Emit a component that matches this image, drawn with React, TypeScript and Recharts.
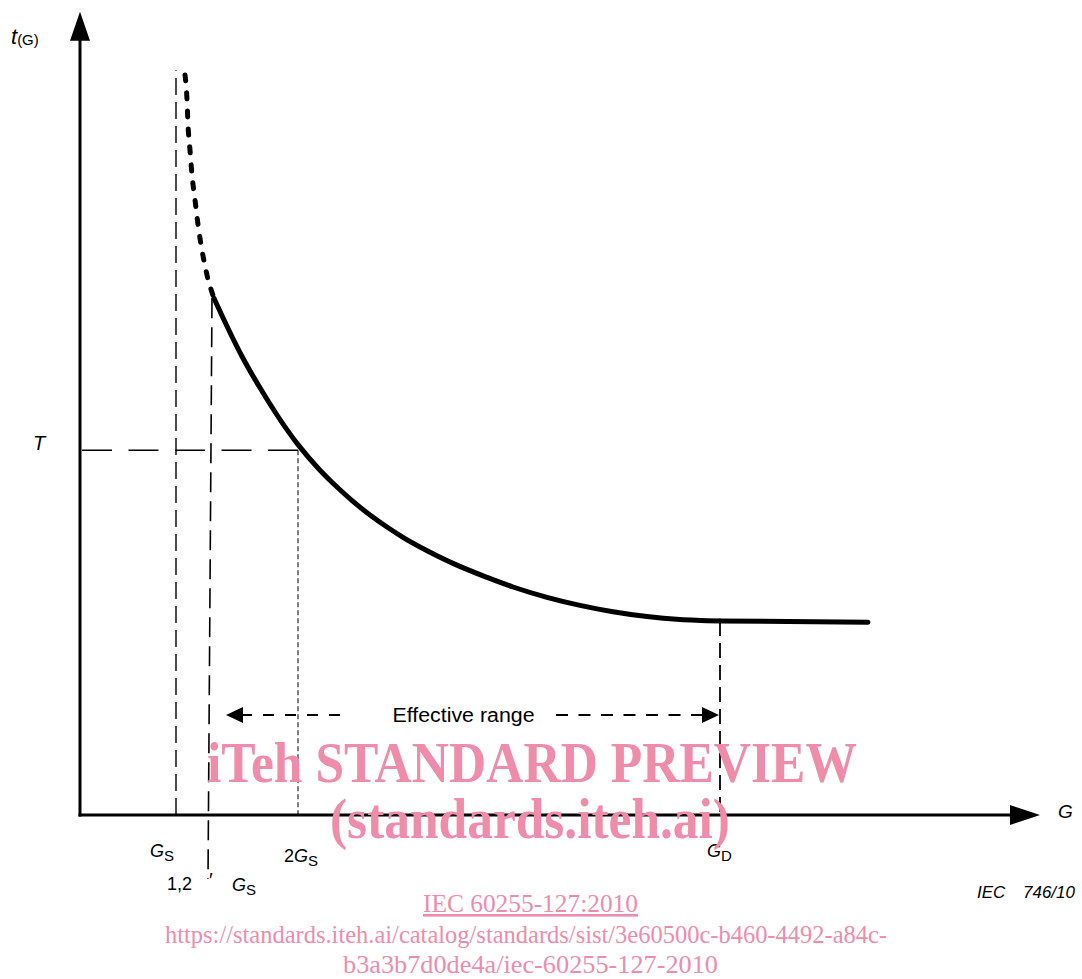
import { LineChart, Line, XAxis, YAxis, ReferenceLine, ReferenceDot } from "recharts";

// curve t(G) (arbitrary units, origin at the axes cross)
const dottedX = [10.5, 10.7, 10.8, 11.0, 11.2, 11.5, 11.8, 12.2, 12.7, 13.4];
const dottedY = [92.5, 89.4, 86.3, 83.1, 80.0, 76.9, 73.8, 70.6, 67.5, 64.6];
const solidX = [13.4, 14.7, 16.3, 18.0, 19.7, 21.8, 24.0, 25.7, 27.3, 29.0, 30.7, 32.3, 34.0, 37.3, 40.7, 43.3, 46.7, 50.0, 53.3, 56.7, 60.0, 64.0];
const solidY = [64.6, 61.1, 57.1, 53.4, 50.0, 46.3, 43.1, 41.0, 39.2, 37.5, 36.0, 34.7, 33.5, 31.45, 29.7, 28.5, 27.2, 26.2, 25.4, 24.8, 24.45, 24.25];
const flatX = [64.0, 78.8];
const flatY = [24.25, 24.1];

// marks on the G axis
const markNames = ["GS", "1,2 GS", "2GS", "GD"];
const markX = [9.6, 13.0, 21.8, 64.0];
const tValue = 45.6;
const gsTop = 93.1;
const gs12Top = [13.2, 64.6];
const gs12Bottom = [12.8, -8.0];
const rangeY = 12.5;
const rangeFrom = 14.6;
const rangeTo = 63.9;
const xAxisEnd = 96;
const yAxisEnd = 100.4;

const dotted = dottedX.map((x, i) => ({ x, y: dottedY[i] }));
const solid = solidX.map((x, i) => ({ x, y: solidY[i] }));
const flat = flatX.map((x, i) => ({ x, y: flatY[i] }));

const SANS = '"Liberation Sans", Arial, sans-serif';
const SERIF = '"Liberation Serif", "Times New Roman", serif';
const PINK = "#F08BAA";

const at = (dx: number, dy: number, body: (x: number, y: number) => any) => (p: any) => (
    <g>{body(p.cx + dx, p.cy + dy)}</g>
);

function Sub({ x, y, main, sub, lead }: { x: number; y: number; main: string; sub: string; lead?: string }) {
    return (
        <text x={x} y={y} fontFamily={SANS} fontSize={18} fill="#000">
            {lead && <tspan>{lead}</tspan>}
            <tspan fontStyle="italic">{main}</tspan>
            <tspan fontSize={15} dy={4}>{sub}</tspan>
        </text>
    );
}

export default function App() {
    return (
        <div style={{ position: "absolute", left: 0, top: 0, width: 1082, height: 979, background: "#fff" }}>
            <LineChart width={1082} height={979} margin={{ top: 0, right: 0, bottom: 0, left: 0 }}>
                <XAxis type="number" dataKey="x" domain={[-8, 100.2]} hide allowDataOverflow />
                <YAxis type="number" dataKey="y" domain={[-20.5, 101.875]} hide allowDataOverflow />

                {/* axes */}
                <ReferenceLine segment={[{ x: -0.15, y: 0 }, { x: xAxisEnd - 2.5, y: 0 }]} stroke="#000" strokeWidth={3} />
                <ReferenceLine segment={[{ x: 0, y: -0.2 }, { x: 0, y: yAxisEnd - 3 }]} stroke="#000" strokeWidth={3} />
                <ReferenceDot x={xAxisEnd} y={0} r={0} shape={at(0, 0, (x, y) => <polygon points={`${x},${y} ${x - 30},${y - 10} ${x - 30},${y + 10}`} fill="#000" />)} />
                <ReferenceDot x={0} y={yAxisEnd} r={0} shape={at(0, 0, (x, y) => <polygon points={`${x},${y} ${x - 10},${y + 29} ${x + 10},${y + 29}`} fill="#000" />)} />

                {/* guide lines */}
                <ReferenceLine segment={[{ x: markX[0], y: 0 }, { x: markX[0], y: gsTop }]} stroke="#000" strokeWidth={1.4} strokeDasharray="17 7" />
                <ReferenceLine segment={[{ x: gs12Top[0], y: gs12Top[1] }, { x: gs12Bottom[0], y: gs12Bottom[1] }]} stroke="#000" strokeWidth={1.6} strokeDasharray="20 9" />
                <ReferenceLine segment={[{ x: 0.2, y: tValue }, { x: markX[2], y: tValue }]} stroke="#000" strokeWidth={1.5} strokeDasharray="30 16.5" />
                <ReferenceLine segment={[{ x: markX[2], y: tValue }, { x: markX[2], y: 0 }]} stroke="#000" strokeWidth={1} strokeDasharray="5 3" />
                <ReferenceLine segment={[{ x: markX[3], y: 24.25 }, { x: markX[3], y: 0 }]} stroke="#000" strokeWidth={1.8} strokeDasharray="15 7" />

                {/* effective range arrow */}
                <ReferenceLine segment={[{ x: 16.1, y: rangeY }, { x: 26.8, y: rangeY }]} stroke="#000" strokeWidth={2} strokeDasharray="11 11" />
                <ReferenceLine segment={[{ x: 47.6, y: rangeY }, { x: 62.8, y: rangeY }]} stroke="#000" strokeWidth={2} strokeDasharray="12 10.5" />
                <ReferenceDot x={rangeFrom} y={rangeY} r={0} shape={at(0, 0, (x, y) => <polygon points={`${x},${y} ${x + 17},${y - 8} ${x + 17},${y + 8}`} fill="#000" />)} />
                <ReferenceDot x={rangeTo} y={rangeY} r={0} shape={at(0, 0, (x, y) => <polygon points={`${x},${y} ${x - 17},${y - 8} ${x - 17},${y + 8}`} fill="#000" />)} />
                <ReferenceDot x={(rangeFrom + rangeTo) / 2 - 0.9} y={rangeY} r={0} shape={at(0, 7, (x, y) => (
                    <text x={x - 71} y={y} fontFamily={SANS} fontSize={20} fill="#000" textLength={142} lengthAdjust="spacingAndGlyphs">Effective range</text>
                ))} />

                {/* curve */}
                <Line data={dotted} dataKey="y" type="monotone" stroke="#000" strokeWidth={5} strokeDasharray="6 12" strokeLinecap="round" dot={false} activeDot={false} isAnimationActive={false} />
                <Line data={solid} dataKey="y" type="natural" stroke="#000" strokeWidth={5} strokeLinecap="round" dot={false} activeDot={false} isAnimationActive={false} />
                <Line data={flat} dataKey="y" type="linear" stroke="#000" strokeWidth={5} strokeLinecap="round" dot={false} activeDot={false} isAnimationActive={false} />

                {/* labels */}
                <ReferenceDot x={0} y={yAxisEnd} r={0} shape={at(-69, 32, (x, y) => (
                    <text x={x} y={y} fontFamily={SANS} fill="#000">
                        <tspan fontSize={22} fontStyle="italic">t</tspan>
                        <tspan fontSize={15} dy={1}>(G)</tspan>
                    </text>
                ))} />
                <ReferenceDot x={0} y={tValue} r={0} shape={at(-47, 0, (x, y) => (
                    <text x={x} y={y} fontFamily={SANS} fontSize={20} fontStyle="italic" fill="#000">T</text>
                ))} />
                <ReferenceDot x={xAxisEnd} y={0} r={0} shape={at(18, 3, (x, y) => (
                    <text x={x} y={y} fontFamily={SANS} fontSize={19} fontStyle="italic" fill="#000">G</text>
                ))} />
                <ReferenceDot x={markX[0]} y={0} r={0} shape={at(-26, 42, (x, y) => <Sub x={x} y={y} main="G" sub="S" />)} />
                <ReferenceDot x={markX[2]} y={0} r={0} shape={at(-14, 47, (x, y) => <Sub x={x} y={y} lead="2" main="G" sub="S" />)} />
                <ReferenceDot x={markX[3]} y={0} r={0} shape={at(-13, 42, (x, y) => <Sub x={x} y={y} main="G" sub="D" />)} />
                <ReferenceDot x={gs12Bottom[0]} y={gs12Bottom[1]} r={0} shape={at(0, 0, (x, y) => (
                    <g>
                        <text x={x - 41} y={y + 11} fontFamily={SANS} fontSize={18} fill="#000">1,2</text>
                        <text x={x + 1} y={y + 8} fontFamily={SANS} fontSize={20} fill="#000">′</text>
                        <Sub x={x + 24} y={y + 12} main="G" sub="S" />
                    </g>
                ))} />
                <ReferenceDot x={xAxisEnd} y={0} r={0} shape={at(0, 83, (x, y) => (
                    <text y={y} fontFamily={SANS} fontSize={17} fontStyle="italic" fill="#000">
                        <tspan x={x - 63}>IEC</tspan>
                        <tspan x={x - 17}>746/10</tspan>
                    </text>
                ))} />
            </LineChart>

            {/* watermark */}
            <svg width={1082} height={979} style={{ position: "absolute", left: 0, top: 0, pointerEvents: "none" }}>
                <text x={207} y={782} fontFamily={SERIF} fontWeight="bold" fontSize={56} fill={PINK} textLength={650} lengthAdjust="spacingAndGlyphs">iTeh STANDARD PREVIEW</text>
                <text x={330} y={838} fontFamily={SERIF} fontWeight="bold" fontSize={56} fill={PINK} textLength={400} lengthAdjust="spacingAndGlyphs">(standards.iteh.ai)</text>
                <text x={423} y={912} fontFamily={SERIF} fontSize={26} fill={PINK} textLength={215} lengthAdjust="spacingAndGlyphs" textDecoration="underline">IEC 60255-127:2010</text>
                <text x={165} y={943} fontFamily={SERIF} fontSize={26} fill={PINK} textLength={722} lengthAdjust="spacingAndGlyphs">https://standards.iteh.ai/catalog/standards/sist/3e60500c-b460-4492-a84c-</text>
                <text x={343} y={973} fontFamily={SERIF} fontSize={26} fill={PINK} textLength={375} lengthAdjust="spacingAndGlyphs">b3a3b7d0de4a/iec-60255-127-2010</text>
            </svg>
        </div>
    );
}
